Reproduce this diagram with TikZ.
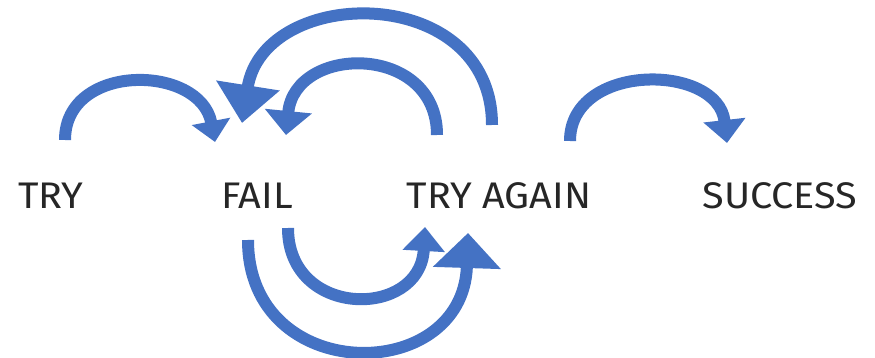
\documentclass[tikz,border=0pt]{standalone}
\usepackage{fontspec}
\setmainfont[FakeStretch=1.07]{Fira Sans}
\usetikzlibrary{arrows.meta}
\definecolor{blu}{RGB}{68,114,196}
\begin{document}
\begin{tikzpicture}[x=1pt,y=1pt,
      lab/.style={font=\fontsize{37}{40}\selectfont,text=black!85},
      arr/.style={draw=blu,line width=12pt}]
    \useasboundingbox (0,0) rectangle (875,358);
    % --- words ---
    \node[lab] (try) at (51,162) {TRY};
    \node[lab] (fail) at (257,162) {FAIL};
    \node[lab] (again) at (499,162) {TRY AGAIN};
    \node[lab] (success) at (780,162) {SUCCESS};
    % --- ends of the arrows ---
    \coordinate (try-out) at (65,218);
    \coordinate (fail-in) at (215,216);
    \coordinate (again-out1) at (437,223);
    \coordinate (fail-in1) at (286,223);
    \coordinate (again-out2) at (492,233);
    \coordinate (fail-in2) at (242,235);
    \coordinate (fail-out1) at (288,130);
    \coordinate (again-in1) at (425,131);
    \coordinate (fail-out2) at (248,118);
    \coordinate (again-in2) at (468,125);
    \coordinate (again-out) at (570,217);
    \coordinate (success-in) at (727,215);
    % --- over the words ---
    \draw[arr,-{Triangle[width=38pt,length=21pt]}]
      (try-out) .. controls (65,296) and (200,294) .. (fail-in);
    \draw[arr,-{Triangle[width=46pt,length=24pt]}]
      (again-out1) .. controls (437,315) and (295,314) .. (fail-in1);
    \draw[arr,-{Triangle[width=62pt,length=38pt]}]
      (again-out2) .. controls (492,376) and (264,374) .. (fail-in2);
    \draw[arr,-{Triangle[width=41pt,length=23pt]}]
      (again-out) .. controls (570,296) and (718,295) .. (success-in);
    % --- under the words ---
    \draw[arr,-{Triangle[width=41pt,length=24pt]}]
      (fail-out1) .. controls (288,39) and (420,39) .. (again-in1);
    \draw[arr,-{Triangle[width=66pt,length=35pt]}]
      (fail-out2) .. controls (248,-28) and (463,-28) .. (again-in2);
  \end{tikzpicture}
\end{document}
